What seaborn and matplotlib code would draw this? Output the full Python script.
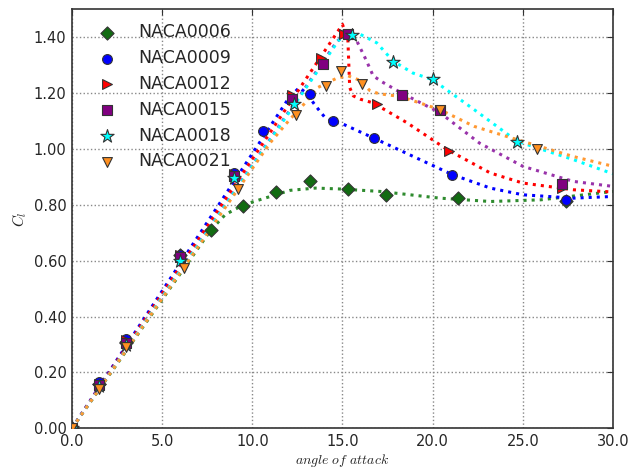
import numpy as np
import pandas as pd
import matplotlib
matplotlib.use("Agg")
import matplotlib.pyplot as plt
import seaborn as sns

# measured points (markers)
names = ["NACA0006", "NACA0009", "NACA0012", "NACA0015", "NACA0018", "NACA0021"]

x_06 = [0, 1.5, 3.0, 6.0, 7.7, 9.5, 11.3, 13.2, 15.3, 17.4, 21.4, 27.4]
y_06 = [0, 0.16, 0.31, 0.62, 0.71, 0.795, 0.847, 0.886, 0.858, 0.836, 0.824, 0.815]
x_09 = [0, 1.5, 3.0, 6.0, 9.0, 10.6, 13.2, 14.5, 16.75, 21.1, 27.4]
y_09 = [0, 0.165, 0.32, 0.62, 0.915, 1.065, 1.197, 1.10, 1.04, 0.908, 0.816]
x_12 = [0, 1.5, 3.0, 6.0, 9.0, 12.2, 13.8, 15.1, 16.9, 20.9, 27.2]
y_12 = [0, 0.16, 0.315, 0.62, 0.91, 1.195, 1.326, 1.413, 1.16, 0.994, 0.86]
x_15 = [0, 1.5, 3.0, 6.0, 9.0, 12.2, 13.9, 15.3, 18.3, 20.4, 27.2]
y_15 = [0, 0.155, 0.305, 0.615, 0.905, 1.18, 1.305, 1.41, 1.193, 1.141, 0.876]
x_18 = [0, 1.5, 3.0, 6.0, 9.0, 12.3, 15.5, 17.8, 20.0, 24.7]
y_18 = [0, 0.15, 0.30, 0.60, 0.895, 1.16, 1.407, 1.312, 1.252, 1.025]
x_21 = [0, 1.5, 3.0, 6.2, 9.2, 12.4, 14.1, 14.9, 16.1, 20.4, 25.8]
y_21 = [0, 0.14, 0.29, 0.575, 0.858, 1.123, 1.224, 1.28, 1.234, 1.14, 1.0]

# fitted curves (dotted lines)
lx_06 = [0, 7.7, 8.5, 9.5, 10.4, 12.1, 13.5, 14.8, 17.1, 20.4, 23.2, 26.0, 30.0]
ly_06 = [0, 0.71, 0.765, 0.80, 0.818, 0.852, 0.86, 0.857, 0.848, 0.824, 0.812, 0.818, 0.848]
lx_09 = [0, 12.0, 12.6, 13.0, 13.5, 14.0, 14.5, 15.0, 16.7, 18.5, 21.1, 23.2, 25.0, 27.8, 30.0]
ly_09 = [0, 1.18, 1.22, 1.20, 1.155, 1.115, 1.098, 1.09, 1.04, 0.986, 0.908, 0.86, 0.836, 0.824, 0.83]
lx_12 = [0, 15.0, 15.3, 15.4, 15.6, 16.0, 16.7, 18.6, 20.8, 23.2, 25.0, 27.8, 30.0]
ly_12 = [0, 1.446, 1.39, 1.22, 1.19, 1.178, 1.165, 1.093, 0.998, 0.914, 0.878, 0.854, 0.846]
lx_15 = [0, 14.7, 15.2, 15.8, 16.3, 16.7, 17.2, 18.2, 20.4, 22.6, 25.0, 27.8, 30.0]
ly_15 = [0, 1.386, 1.41, 1.386, 1.32, 1.262, 1.24, 1.203, 1.13, 1.021, 0.938, 0.884, 0.866]
lx_18 = [0, 14.8, 15.3, 16.0, 16.9, 17.8, 18.9, 20.0, 22.3, 24.7, 27.8, 30.0]
ly_18 = [0, 1.39, 1.405, 1.41, 1.38, 1.315, 1.272, 1.248, 1.141, 1.027, 0.962, 0.911]
lx_21 = [0, 11.0, 12.0, 13.0, 13.6, 14.7, 15.3, 16.0, 16.5, 17.0, 18.2, 20.4, 22.3, 24.7, 27.8, 30.0]
ly_21 = [0, 1.023, 1.1, 1.17, 1.219, 1.254, 1.262, 1.245, 1.21, 1.198, 1.188, 1.141, 1.081, 1.033, 0.973, 0.938]

x_ticks = [0, 5, 10, 15, 20, 25, 30]
y_ticks = [0, 0.2, 0.4, 0.6, 0.8, 1.0, 1.2, 1.4]

pts = [(x_06, y_06), (x_09, y_09), (x_12, y_12), (x_15, y_15), (x_18, y_18), (x_21, y_21)]
curves = [(lx_06, ly_06), (lx_09, ly_09), (lx_12, ly_12), (lx_15, ly_15), (lx_18, ly_18), (lx_21, ly_21)]
markers = ["D", "o", ">", "s", "*", "v"]
sizes = [45, 50, 50, 50, 100, 50]
m_colors = ["#126b12", "#0000ff", "#ff0000", "#800080", "#00ffff", "#ff9020"]
l_colors = ["#2e8b2e", "#0000ff", "#ff0000", "#9933aa", "#00ffff", "#ff9933"]

sns.set_style("white")
plt.rcParams["font.family"] = ["DejaVu Sans"]
plt.rcParams["mathtext.fontset"] = "cm"

fig = plt.figure(figsize=(6.36, 4.68), dpi=100)
ax = fig.add_axes([0.1132, 0.0848, 0.8506, 0.8953])

for i in range(6):
    lx, ly = curves[i]
    sns.lineplot(x=lx, y=ly, ax=ax, color=l_colors[i], linestyle=":", linewidth=2.2,
                 sort=False, estimator=None)
for i in range(6):
    px, py = pts[i]
    sns.scatterplot(x=px, y=py, ax=ax, marker=markers[i], s=sizes[i], color=m_colors[i],
                    edgecolor="#333333", linewidth=0.8, label=names[i], zorder=3)

ax.set_xlim(0, 30)
ax.set_ylim(0, 1.5)
ax.set_xticks(x_ticks)
ax.set_yticks(y_ticks)
ax.set_xticklabels(["%.1f" % v for v in x_ticks], fontsize=10.5)
ax.set_yticklabels(["%.2f" % v for v in y_ticks], fontsize=10.5)
ax.tick_params(direction="in", top=True, right=True, length=4, width=0.8, color="#333333", pad=4)
ax.grid(True, linestyle=":", color="#888888", linewidth=1.0)
for s in ax.spines.values():
    s.set_color("#333333")
    s.set_linewidth(1.2)

ax.set_xlabel(r"$angle\ of\ attack$", fontsize=10, labelpad=2)
ax.set_ylabel(r"$C_l$", fontsize=11, labelpad=3)

ax.legend(loc="upper left", bbox_to_anchor=(0.02, 0.983), frameon=False, fontsize=12.5,
          scatterpoints=1, handletextpad=0.8, labelspacing=0.45, borderaxespad=0)

fig.savefig("out.png", dpi=100)
